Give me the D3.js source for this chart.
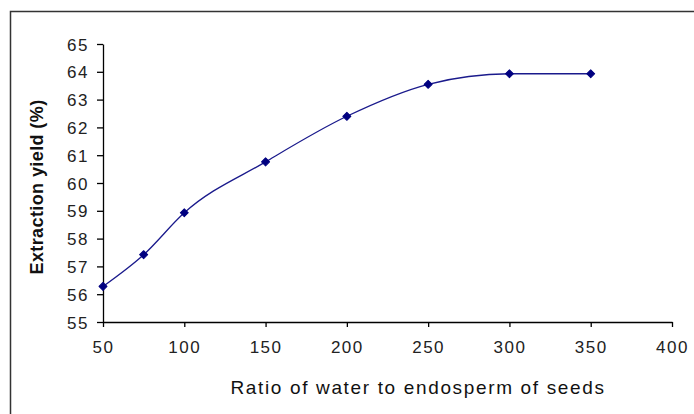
<!DOCTYPE html>
<html><head><meta charset="utf-8">
<script src="https://cdn.jsdelivr.net/npm/d3@7"></script>
<style>body{margin:0;background:#fff}svg{display:block}</style>
</head><body>
<svg id="c" width="694" height="414"></svg>
<script>
const ratios = [50, 75, 100, 150, 200, 250, 300, 350];
const yields = [56.28, 57.42, 58.93, 60.76, 62.4, 63.55, 63.93, 63.93];
const xTicks = [50, 100, 150, 200, 250, 300, 350, 400];
const yTicks = [55, 56, 57, 58, 59, 60, 61, 62, 63, 64, 65];
const xTitle = "Ratio of water to endosperm of seeds";
const yTitle = "Extraction yield (%)";

const svg = d3.select("#c");
const font = "'Liberation Sans', Arial, sans-serif";
// frame
svg.append("path").attr("d", "M10.5,414 V11.5 H694").attr("fill", "none").attr("stroke", "#333").attr("stroke-width", 1.5);

const x = d3.scaleLinear().domain([50, 400]).range([103, 672]);
const y = d3.scaleLinear().domain([55, 65]).range([322, 44]);

const xa = svg.append("g").attr("transform", "translate(0,322)")
  .call(d3.axisBottom(x).tickValues(xTicks).tickSize(5).tickPadding(14).tickSizeOuter(0));
const ya = svg.append("g").attr("transform", "translate(103,0)")
  .call(d3.axisLeft(y).tickValues(yTicks).tickSize(6).tickPadding(8).tickSizeOuter(0));
[xa, ya].forEach(g => {
  g.select(".domain").attr("stroke", "#000").attr("stroke-width", 1.3);
  g.selectAll(".tick line").attr("stroke", "#000").attr("stroke-width", 1.3);
  g.selectAll(".tick text").attr("fill", "#222").style("font-family", font)
    .style("font-size", "17px").style("letter-spacing", "1.5px");
});
ya.selectAll(".tick text").attr("dy", "0.36em");

const line = d3.line().x((d, i) => x(ratios[i])).y(d => y(d)).curve(d3.curveMonotoneX);
svg.append("path").datum(yields).attr("d", line).attr("fill", "none").attr("stroke", "#1a1a8c").attr("stroke-width", 1.3);

svg.selectAll(".pt").data(yields).enter().append("path")
  .attr("transform", (d, i) => `translate(${x(ratios[i])},${y(d)}) rotate(45)`)
  .attr("d", d3.symbol().type(d3.symbolSquare).size(32))
  .attr("fill", "#000080").attr("stroke", "#000080").attr("stroke-width", 1).attr("stroke-linejoin", "round");

svg.append("text").attr("x", 418).attr("y", 394).attr("text-anchor", "middle")
  .style("font-family", font).style("font-size", "19px").style("letter-spacing", "1.65px").attr("fill", "#111").text(xTitle);
svg.append("text").attr("transform", "translate(43,187) rotate(-90)").attr("text-anchor", "middle")
  .style("font-family", font).style("font-size", "18px").style("font-weight", "bold").style("letter-spacing", "0.4px").attr("fill", "#111").text(yTitle);
</script>
</body></html>
